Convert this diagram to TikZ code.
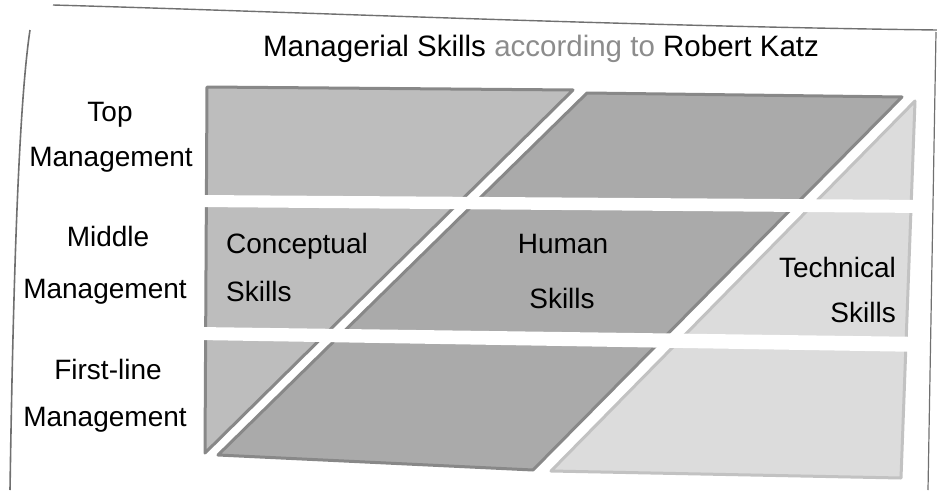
\documentclass[tikz,border=0pt]{standalone}
\usepackage{fontspec}
\setmainfont{Liberation Sans}
\usetikzlibrary{positioning}

\definecolor{conceptfill}{HTML}{BDBDBD}
\definecolor{humanfill}{HTML}{AAAAAA}
\definecolor{techfill}{HTML}{DCDCDC}
\definecolor{edgegray}{HTML}{888888}
\definecolor{techedge}{HTML}{C2C2C2}
\definecolor{framegray}{HTML}{707070}
\definecolor{softtext}{HTML}{8C8C8C}

\begin{document}
\begin{tikzpicture}[x=1pt,y=-1pt,
    lbl/.style={anchor=base,inner sep=0pt,font=\fontsize{28}{32}\selectfont},
    skillshape/.style={line width=3pt,line join=round}]
            \useasboundingbox (0,0) rectangle (937,490);

            % Hand drawn frame
            \draw[framegray,line width=1.6pt] (10,490) .. controls (13,300) and (18,110) .. (30,30);
            \draw[framegray,line width=1.4pt] (53,5) .. controls (300,12) and (620,26) .. (937,30);
            \draw[framegray,line width=1.2pt] (936,32) -- (928,490);

            % Conceptual skills - triangle on the left
            \draw[skillshape,fill=conceptfill,draw=edgegray] (207,87) -- (573,90) -- (205,453) -- cycle;

            % Human skills - parallelogram in the middle
            \draw[skillshape,fill=humanfill,draw=edgegray] (587,93) -- (902,97) -- (533,470) -- (218,455) -- cycle;

            % Technical skills - triangle on the right
            \draw[skillshape,fill=techfill,draw=techedge] (915,101) -- (901,478) -- (551,471) -- cycle;

            % White bands between the levels
            \fill[white] (198,195) -- (926,200) -- (926,213) -- (198,207) -- cycle;
            \fill[white] (198,327) -- (926,337) -- (926,352) -- (198,340) -- cycle;

            % Title
            \node[anchor=base,inner sep=0pt,font=\fontsize{29.5}{34}\selectfont] (title) at (541,56)
                {Managerial Skills \textcolor{softtext}{according to} Robert Katz};

            % Management levels
            \node[lbl] (topa) at (110,121) {Top};
            \node[lbl] (topb) at (111,166) {Management};
            \node[lbl] (mida) at (108,246) {Middle};
            \node[lbl] (midb) at (105,298) {Management};
            \node[lbl] (firsta) at (108,379) {First-line};
            \node[lbl] (firstb) at (105,426) {Management};

            % Skill labels
            \node[lbl,anchor=base west] (concepta) at (226,253) {Conceptual};
            \node[lbl,anchor=base west] (conceptb) at (226,301) {Skills};
            \node[lbl] (humana) at (563,253) {Human};
            \node[lbl] (humanb) at (562,308) {Skills};
            \node[lbl,anchor=base east] (techa) at (896,277) {Technical};
            \node[lbl,anchor=base east] (techb) at (896,322) {Skills};
        \end{tikzpicture}
\end{document}
